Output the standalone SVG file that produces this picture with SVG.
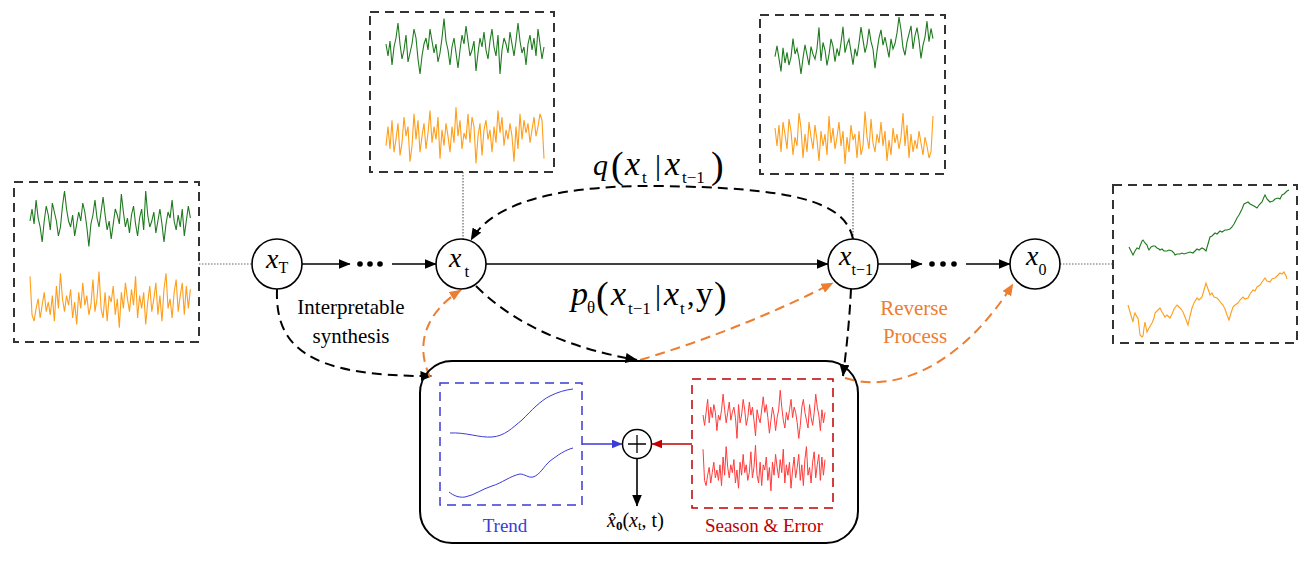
<svg xmlns="http://www.w3.org/2000/svg" xmlns:xlink="http://www.w3.org/1999/xlink" width="1310" height="566" viewBox="0 0 1310 566">
<style>
.f{font-family:"Liberation Serif","Times New Roman",serif;fill:#000}
.it{font-style:italic}
.box{fill:none;stroke:#333;stroke-width:2;stroke-dasharray:9 6}
.dot{fill:none;stroke:#666;stroke-width:1.2;stroke-dasharray:1.5 1.5}
.node{fill:#fff;stroke:#000;stroke-width:1.6}
.g{stroke:#1f7a1f;stroke-width:1.1;fill:none}
.o{stroke:#ff9e1b;stroke-width:1.1;fill:none}
.r{stroke:#ff3b3b;stroke-width:1;fill:none}
.bl{stroke:#3b3bd6;stroke-width:1;fill:none}
.solid{stroke:#000;stroke-width:1.6;fill:none}
.dk{stroke:#000;stroke-width:2;fill:none;stroke-dasharray:10 6}
.dor{stroke:#ed7d31;stroke-width:2;fill:none;stroke-dasharray:10 6}
</style>
<defs>
<marker id="ab" viewBox="0 0 12 10" refX="11.5" refY="5" markerWidth="12" markerHeight="10" markerUnits="userSpaceOnUse" orient="auto"><path d="M0,0 L12,5 L0,10 z" fill="#000"/></marker>
<marker id="ao" viewBox="0 0 12 10" refX="11.5" refY="5" markerWidth="12" markerHeight="10" markerUnits="userSpaceOnUse" orient="auto"><path d="M0,0 L12,5 L0,10 z" fill="#ed7d31"/></marker>
<marker id="abl" viewBox="0 0 12 10" refX="11.5" refY="5" markerWidth="11" markerHeight="9" markerUnits="userSpaceOnUse" orient="auto"><path d="M0,0 L12,5 L0,10 z" fill="#3b3bd6"/></marker>
<marker id="ar" viewBox="0 0 12 10" refX="11.5" refY="5" markerWidth="11" markerHeight="9" markerUnits="userSpaceOnUse" orient="auto"><path d="M0,0 L12,5 L0,10 z" fill="#c00000"/></marker>
<polyline id="sE" vector-effect="non-scaling-stroke" points="0,0.1 1,-0.3 2,0.2 3,-0.6 4,0 5,0.3 6,0.8 7,0.1 8,-0.4 9,-0.1 10,0.4 11,-0.5 12,-0.2 13,0.1 14,0.6 15,0.3 16,-0.4 17,-0.9 18,-0.3 19,0.1 20,0.3 21,-0.1 22,0.6 23,0.2 24,-0.2 25,0.1 26,-0.5 27,-0.2 28,0.3 29,0.95 30,0.2 31,-0.1 32,-0.6 33,0 34,0.3 35,-0.2 36,-0.7 37,-0.1 38,0.4 39,0.1 40,0.7 41,0.2 42,-0.3 43,-0.1 44,0.2 45,-0.8 46,-0.2 47,0.3 48,0 49,0.5 50,-0.1 51,-0.4 52,0.2 53,0.6 54,0 55,-0.3 56,0.4 57,-0.9 58,-0.1 59,0.3 60,0.1 61,-0.2 62,0.5 63,0.1 64,-0.3 65,0.2 66,0.8 67,0.2 68,-0.2 69,0 70,-0.6 71,0.1 72,0.4 73,-0.1 74,0.3 75,-0.3 76,0.6 77,0.1 78,-0.4 79,0"/>
<polyline id="sF" vector-effect="non-scaling-stroke" points="0,0.8 1,-0.4 2,-0.6 3,-0.2 4,0.1 5,-0.5 6,-0.1 7,0.3 8,-0.3 9,0 10,-0.4 11,0.2 12,-0.6 13,0.5 14,-0.2 15,0.9 16,0.1 17,-0.3 18,0.2 19,-0.1 20,0.4 21,-0.5 22,0 23,-0.7 24,0.3 25,-0.2 26,0.6 27,-0.1 28,0.2 29,-0.4 30,-0.1 31,0.7 32,-0.3 33,0.1 34,0.95 35,-0.2 36,-0.5 37,0.3 38,-0.6 39,0.2 40,0 41,0.5 42,-0.4 43,0.1 44,-0.8 45,0.3 46,-0.2 47,0.6 48,0.1 49,-0.3 50,0.4 51,-0.1 52,0.8 53,-0.5 54,0.2 55,-0.2 56,0.3 57,-0.7 58,0 59,0.5 60,-0.3 61,0.1 62,0.6 63,-0.4 64,0.2 65,-0.6 66,0.4 67,0.9 68,-0.2 69,0.1 70,-0.5 71,0.3 72,0.7 73,-0.3 74,0.2 75,0.6 76,-0.4 77,0.5 78,-0.2 79,0.4"/>
</defs>
<rect width="1310" height="566" fill="#fff"/>

<g id="connectors">
<line class="dot" x1="199" y1="264" x2="253" y2="264"/>
<line class="dot" x1="463" y1="172" x2="463" y2="239"/>
<line class="dot" x1="853" y1="174" x2="853" y2="239"/>
<line class="dot" x1="1060" y1="264" x2="1113" y2="264"/>
<line class="solid" x1="302" y1="264" x2="350" y2="264" marker-end="url(#ab)"/>
<line class="solid" x1="392" y1="264" x2="436" y2="264" marker-end="url(#ab)"/>
<line class="solid" x1="486" y1="264" x2="828" y2="264" marker-end="url(#ab)"/>
<line class="solid" x1="878" y1="264" x2="922" y2="264" marker-end="url(#ab)"/>
<line class="solid" x1="966" y1="264" x2="1010" y2="264" marker-end="url(#ab)"/>
<g fill="#000"><circle cx="360" cy="264" r="2.8"/><circle cx="370" cy="264" r="2.8"/><circle cx="380" cy="264" r="2.8"/><circle cx="932" cy="264" r="2.8"/><circle cx="943" cy="264" r="2.8"/><circle cx="954" cy="264" r="2.8"/></g>
<path class="dk" d="M853,239 C845,200 790,188 660,186 C550,185 492,205 471,240" marker-end="url(#ab)"/>
<path class="dk" d="M277,289 C275,345 305,377 432,376" marker-end="url(#ab)"/>
<path class="dk" d="M476,286 C520,330 580,350 637,360" marker-end="url(#ab)"/>
<path class="dk" d="M851,289 Q849,330 843,376" marker-end="url(#ab)"/>
<path class="dor" d="M430,377 C415,345 425,313 461,290" marker-end="url(#ao)"/>
<path class="dor" d="M640,360 Q740,330 833,283" marker-end="url(#ao)"/>
<path class="dor" d="M845,378 C900,395 965,360 1013,284" marker-end="url(#ao)"/>
</g>

<g id="box-xT">
<rect class="box" x="14" y="182" width="185" height="160"/>
<use href="#sE" class="g" transform="matrix(2.03,0,0,30,30,218)"/>
<use href="#sF" class="o" transform="matrix(2.03,0,0,-32,30,302)"/>
</g>
<g id="box-xt">
<rect class="box" x="370" y="12" width="184" height="160"/>
<use href="#sE" class="g" transform="matrix(2,0,0,-30,386,47)"/>
<use href="#sF" class="o" transform="matrix(-2,0,0,32,544,133)"/>
</g>
<g id="box-xt1">
<rect class="box" x="760" y="15" width="185" height="159"/>
<use href="#sE" class="g" transform="matrix(-2,0.26,0,26,933,36)"/>
<use href="#sF" class="o" transform="matrix(-2,0,0,-30,933,140)"/>
</g>
<g id="box-x0">
<rect class="box" x="1113" y="185" width="184" height="158"/>
<polyline class="g" points="1129,247 1131,251 1133,255 1135,251 1137,248 1139,249 1140,246 1142,241 1143,240 1145,243 1147,245 1148,248 1149,250 1151,247 1153,246 1155,246 1157,248 1159,249 1160,250 1162,249 1164,251 1167,251 1169,250 1172,251 1174,253 1175,255 1177,254 1180,254 1182,253 1184,254 1187,253 1190,252 1193,253 1195,251 1197,249 1199,250 1202,248 1204,249 1206,251 1208,244 1210,237 1212,236 1215,233 1217,234 1220,231 1222,232 1225,230 1227,230 1230,229 1232,227 1234,224 1236,220 1237,218 1239,215 1240,213 1242,209 1244,204 1246,203 1248,202 1250,204 1252,205 1254,206 1257,208 1259,205 1262,202 1264,197 1265,195 1267,199 1268,200 1270,202 1273,201 1275,199 1278,198 1280,199 1282,195 1284,194 1287,191 1289,190"/>
<polyline class="o" points="1128,305 1130,312 1133,322 1134,316 1135,313 1137,317 1138,318 1139,326 1140,335 1142,337 1143,336 1144,328 1145,322 1146,327 1147,332 1149,328 1152,323 1154,318 1155,313 1157,311 1160,308 1162,312 1165,317 1167,315 1170,318 1172,314 1174,309 1177,305 1179,307 1181,309 1183,312 1185,317 1188,325 1190,316 1192,308 1194,303 1197,298 1199,300 1202,297 1204,290 1206,283 1208,289 1210,295 1212,293 1214,297 1217,298 1219,300 1221,303 1223,305 1225,309 1227,315 1229,320 1231,313 1233,307 1235,305 1238,303 1240,300 1243,297 1245,299 1248,298 1250,294 1253,290 1255,291 1257,287 1260,285 1262,282 1265,278 1267,281 1270,282 1272,279 1275,278 1277,276 1280,273 1282,274 1284,272 1286,276 1287,279"/>
</g>

<g id="node-xT">
<circle class="node" cx="277" cy="264" r="25"/>
<text class="f" x="266" y="268"><tspan class="it" font-size="28">x</tspan><tspan font-size="16" dy="5">T</tspan></text>
</g>
<g id="node-xt">
<circle class="node" cx="461" cy="264" r="25"/>
<text class="f" x="449" y="267"><tspan class="it" font-size="28">x</tspan><tspan font-size="17" dx="3" dy="10">t</tspan></text>
</g>
<g id="node-xt1">
<circle class="node" cx="853" cy="264" r="25"/>
<text class="f" x="839" y="265"><tspan class="it" font-size="28">x</tspan><tspan font-size="16" dy="10">t−1</tspan></text>
</g>
<g id="node-x0">
<circle class="node" cx="1035" cy="264" r="25"/>
<text class="f" x="1026" y="265"><tspan class="it" font-size="28">x</tspan><tspan font-size="16" dy="10">0</tspan></text>
</g>

<g id="label-q">
<text class="f it" x="593" y="175" font-size="30">q</text>
<text class="f" x="611" y="178" font-size="38">(</text>
<text class="f it" x="625" y="175" font-size="34">x</text>
<text class="f" x="642" y="183" font-size="17">t</text>
<text class="f" x="655" y="175" font-size="30">|</text>
<text class="f it" x="665" y="175" font-size="34">x</text>
<text class="f" x="682" y="183" font-size="17">t−1</text>
<text class="f" x="711" y="178" font-size="38">)</text>
</g>
<g id="label-p">
<text class="f it" x="571" y="305" font-size="34">p</text>
<text class="f" x="587" y="313" font-size="17">θ</text>
<text class="f" x="596" y="308" font-size="38">(</text>
<text class="f it" x="611" y="305" font-size="34">x</text>
<text class="f" x="628" y="314" font-size="17">t−1</text>
<text class="f" x="655" y="305" font-size="30">|</text>
<text class="f it" x="664" y="305" font-size="34">x</text>
<text class="f" x="680" y="314" font-size="17">t</text>
<text class="f" x="687" y="305" font-size="30">,</text>
<text class="f" x="696" y="305" font-size="34">y</text>
<text class="f" x="714" y="308" font-size="38">)</text>
</g>

<g id="label-synthesis">
<text class="f" x="351" y="314" font-size="21" text-anchor="middle">Interpretable</text>
<text class="f" x="351" y="343" font-size="21" text-anchor="middle">synthesis</text>
</g>
<g id="label-reverse">
<text class="f" x="914" y="315" font-size="21" text-anchor="middle" style="fill:#ed7d31">Reverse</text>
<text class="f" x="915" y="343" font-size="21" text-anchor="middle" style="fill:#ed7d31">Process</text>
</g>

<g id="decomposition">
<rect x="420" y="361" width="438" height="182" rx="32" fill="none" stroke="#000" stroke-width="2"/>
<g id="trend">
<rect x="440" y="383" width="142" height="122" fill="none" stroke="#3b3bd6" stroke-width="1.5" stroke-dasharray="9 6"/>
<path class="bl" d="M450,433 C465,432 480,438 492,437 C505,436 512,428 522,420 C532,410 540,401 550,396 C558,392 565,390 573,389"/>
<path class="bl" d="M449,492 C453,495 458,498 465,497 C475,495 482,489 492,486 C502,483 510,476 520,474 C525,474 528,478 533,477 C540,475 544,466 550,461 C558,455 565,450 573,448"/>
<text class="f" x="505" y="532" font-size="19" text-anchor="middle" style="fill:#3b3bd6">Trend</text>
</g>
<g id="season">
<rect x="692" y="379" width="141" height="129" fill="none" stroke="#c00000" stroke-width="1.5" stroke-dasharray="9 6"/>
<use href="#sE" class="r" transform="matrix(-1.544,0,0,-26,825,415)"/>
<use href="#sF" class="r" transform="matrix(1.544,0,0,-26,703,470)"/>
<text class="f" x="764" y="532" font-size="19" text-anchor="middle" style="fill:#c00000">Season &amp; Error</text>
</g>
<g id="sum">
<circle cx="637" cy="444" r="14.5" fill="#fff" stroke="#000" stroke-width="1.5"/>
<path d="M628,444 H646 M637,435 V453" stroke="#000" stroke-width="1.3"/>
</g>
<line x1="582" y1="444" x2="622" y2="444" stroke="#3b3bd6" stroke-width="1.6" marker-end="url(#abl)"/>
<line x1="692" y1="444" x2="652" y2="444" stroke="#c00000" stroke-width="1.6" marker-end="url(#ar)"/>
<line x1="637" y1="459" x2="637" y2="506" stroke="#000" stroke-width="1.6" marker-end="url(#ab)"/>
<text class="f" x="607" y="527" font-size="20"><tspan class="it">x&#x302;</tspan><tspan font-size="13" font-weight="bold" dy="3">0</tspan><tspan dy="-3">(</tspan><tspan class="it">x</tspan><tspan font-size="13" dy="3">t</tspan><tspan dy="-3">, t)</tspan></text>
</g>
</svg>
